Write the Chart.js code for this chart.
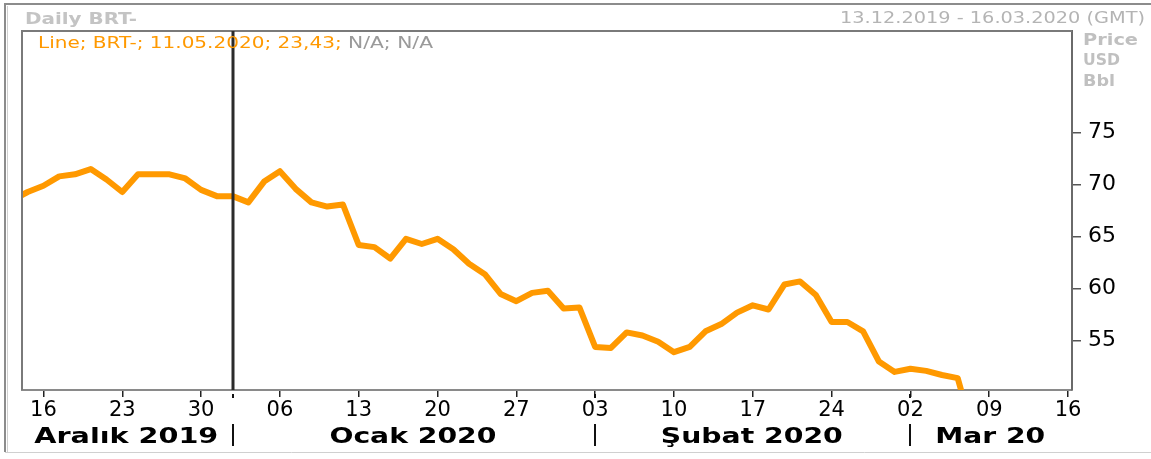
<!DOCTYPE html>
<html>
<head>
<meta charset="utf-8">
<script src="https://cdn.jsdelivr.net/npm/chart.js@4.4.1/dist/chart.umd.min.js"></script>
<style>
  html, body { margin: 0; padding: 0; background: #ffffff; }
  #wrap { position: relative; width: 1151px; height: 459px; }
</style>
</head>
<body>
<div id="wrap"><canvas id="c" width="1151" height="459"></canvas></div>
<script>
// ---- data (trading days, weekdays) ----
const dates = [
  "12.12.2019","13.12.2019",
  "16.12.2019","17.12.2019","18.12.2019","19.12.2019","20.12.2019",
  "23.12.2019","24.12.2019","25.12.2019","26.12.2019","27.12.2019",
  "30.12.2019","31.12.2019","01.01.2020","02.01.2020","03.01.2020",
  "06.01.2020","07.01.2020","08.01.2020","09.01.2020","10.01.2020",
  "13.01.2020","14.01.2020","15.01.2020","16.01.2020","17.01.2020",
  "20.01.2020","21.01.2020","22.01.2020","23.01.2020","24.01.2020",
  "27.01.2020","28.01.2020","29.01.2020","30.01.2020","31.01.2020",
  "03.02.2020","04.02.2020","05.02.2020","06.02.2020","07.02.2020",
  "10.02.2020","11.02.2020","12.02.2020","13.02.2020","14.02.2020",
  "17.02.2020","18.02.2020","19.02.2020","20.02.2020","21.02.2020",
  "24.02.2020","25.02.2020","26.02.2020","27.02.2020","28.02.2020",
  "02.03.2020","03.03.2020","04.03.2020","05.03.2020","06.03.2020"
];
const prices = [
  68.5, 69.3,
  69.9, 70.8, 71.0, 71.5, 70.5,
  69.3, 71.0, 71.0, 71.0, 70.6,
  69.5, 68.9, 68.9, 68.3, 70.3,
  71.3, 69.6, 68.3, 67.9, 68.1,
  64.2, 64.0, 62.9, 64.8, 64.3,
  64.8, 63.8, 62.4, 61.4, 59.5,
  58.8, 59.6, 59.8, 58.1, 58.2,
  54.4, 54.3, 55.8, 55.5, 54.9,
  53.9, 54.4, 55.9, 56.6, 57.7,
  58.4, 58.0, 60.4, 60.7, 59.4,
  56.8, 56.8, 55.9, 53.0, 52.0,
  52.3, 52.1, 51.7, 51.4, 46.0
];
// x tick positions (index of trading day, 13.12.2019 = 0) and their labels
const xTickPos    = [1, 6, 11, 16, 21, 26, 31, 36, 41, 46, 51, 56, 61, 66];
const xTickLabels = ["16","23","30","06","13","20","27","03","10","17","24","02","09","16"];
const yTickValues = [55, 60, 65, 70, 75];
const monthNames  = ["Aralık 2019", "Ocak 2020", "Şubat 2020", "Mar 20"];
const monthStarts = [13, 36, 56];           // first trading day index of Jan, Feb, Mar
const cursorIndex = 13;                     // vertical cursor line
const titleText   = "Daily BRT-";
const rangeText   = "13.12.2019 - 16.03.2020 (GMT)";
const legendMain  = "Line; BRT-; 11.05.2020; 23,43; ";
const legendNA    = "N/A; N/A";
const unitLines   = ["Price", "USD", "Bbl"];

const X_MIN = -0.36, X_MAX = 66.25;
const Y_MIN = 50.26, Y_MAX = 84.78;

const points = prices.map((v, k) => ({ x: k - 1, y: v }));

const FONT = '"DejaVu Sans", Verdana, sans-serif';

function stretchText(ctx, txt, x, y, targetW, align) {
  const w = ctx.measureText(txt).width;
  const sx = targetW / w;
  ctx.save();
  ctx.translate(x, y);
  ctx.scale(sx, 1);
  ctx.textAlign = align || 'left';
  ctx.fillText(txt, 0, 0);
  ctx.restore();
  return w * sx;
}

const decor = {
  id: 'decor',
  beforeDraw(chart) {
    const ctx = chart.ctx;
    ctx.save();
    ctx.fillStyle = '#ffffff';
    ctx.fillRect(0, 0, chart.width, chart.height);
    // outer frame
    ctx.strokeStyle = '#8c8c8c';
    ctx.lineWidth = 2;
    ctx.beginPath();
    ctx.moveTo(4, 4); ctx.lineTo(1151, 4);
    ctx.moveTo(5, 4); ctx.lineTo(5, 452);
    ctx.stroke();
    ctx.strokeStyle = '#d0d0d0';
    ctx.lineWidth = 1;
    ctx.beginPath();
    ctx.moveTo(7.5, 6); ctx.lineTo(7.5, 452);
    ctx.moveTo(5, 452.5); ctx.lineTo(1151, 452.5);
    ctx.stroke();
    ctx.restore();
  },
  afterDatasetsDraw(chart) {
    const ctx = chart.ctx;
    const a = chart.chartArea;
    const xs = chart.scales.x;
    ctx.save();
    // plot frame (left and top)
    ctx.strokeStyle = '#7a7a7a';
    ctx.lineWidth = 2;
    ctx.beginPath();
    ctx.moveTo(a.left, a.bottom); ctx.lineTo(a.left, a.top); ctx.lineTo(a.right, a.top);
    ctx.stroke();
    // cursor line
    const cx = Math.round(xs.getPixelForValue(cursorIndex));
    ctx.strokeStyle = '#2b2b2b';
    ctx.lineWidth = 3;
    ctx.beginPath();
    ctx.moveTo(cx, a.top); ctx.lineTo(cx, a.bottom);
    ctx.stroke();

    // title and range
    ctx.textBaseline = 'alphabetic';
    ctx.font = 'bold 15px ' + FONT;
    ctx.fillStyle = '#c4c4c4';
    stretchText(ctx, titleText, 25, 24, 112, 'left');
    ctx.font = '15px ' + FONT;
    ctx.fillStyle = '#b4b4b4';
    stretchText(ctx, rangeText, 1145, 23, 305, 'right');

    // legend line
    ctx.font = '15px ' + FONT;
    ctx.fillStyle = '#ff9900';
    const w1 = stretchText(ctx, legendMain, 38, 48, 310, 'left');
    ctx.fillStyle = '#9a9a9a';
    stretchText(ctx, legendNA, 38 + w1, 48, 85, 'left');

    // units
    ctx.font = 'bold 15px ' + FONT;
    ctx.fillStyle = '#c0c0c0';
    stretchText(ctx, unitLines[0], 1083, 45, 55, 'left');
    stretchText(ctx, unitLines[1], 1083, 65, 37, 'left');
    stretchText(ctx, unitLines[2], 1083, 86, 32, 'left');

    // month separators and labels
    const bounds = [X_MIN].concat(monthStarts, [X_MAX]);
    ctx.strokeStyle = '#111111';
    ctx.lineWidth = 2;
    monthStarts.forEach(m => {
      const px = Math.round(xs.getPixelForValue(m)) ;
      ctx.beginPath();
      ctx.moveTo(px, 424); ctx.lineTo(px, 446);
      ctx.moveTo(px, a.bottom + 4); ctx.lineTo(px, a.bottom + 8);
      ctx.stroke();
    });
    ctx.font = 'bold 21px ' + FONT;
    ctx.fillStyle = '#000000';
    const widths = [184, 167, 182, 110];
    monthNames.forEach((name, k) => {
      const c = (xs.getPixelForValue(bounds[k]) + xs.getPixelForValue(bounds[k + 1])) / 2;
      stretchText(ctx, name, c - 1, 443, widths[k], 'center');
    });
    ctx.restore();
  }
};

new Chart(document.getElementById('c'), {
  type: 'line',
  data: {
    datasets: [{
      label: 'BRT-',
      data: points,
      borderColor: '#ff9900',
      borderWidth: 6,
      borderJoinStyle: 'round',
      borderCapStyle: 'round',
      pointRadius: 0,
      tension: 0,
      fill: false,
      clip: 0
    }]
  },
  options: {
    responsive: false,
    animation: false,
    devicePixelRatio: 1,
    layout: { padding: { left: 22, top: 31, right: 0, bottom: 0 } },
    plugins: { legend: { display: false }, tooltip: { enabled: false } },
    scales: {
      x: {
        type: 'linear',
        position: 'bottom',
        min: X_MIN, max: X_MAX,
        afterBuildTicks(scale) { scale.ticks = xTickPos.map(v => ({ value: v })); },
        afterFit(scale) { scale.height = 69; },
        ticks: {
          autoSkip: false, maxRotation: 0,
          color: '#000000',
          font: { family: FONT, size: 21 },
          padding: 1,
          callback(value) { const k = xTickPos.indexOf(value); return k >= 0 ? xTickLabels[k] : ''; }
        },
        grid: { drawOnChartArea: false, drawTicks: true, tickLength: 7, color: '#222222', lineWidth: 1.5 },
        border: { display: true, color: '#8a8a8a', width: 2 }
      },
      y: {
        type: 'linear',
        position: 'right',
        min: Y_MIN, max: Y_MAX,
        afterBuildTicks(scale) { scale.ticks = yTickValues.map(v => ({ value: v })); },
        afterFit(scale) { scale.width = 79; },
        ticks: {
          color: '#000000',
          font: { family: FONT, size: 22 },
          padding: 7,
          callback(value) { return String(value); }
        },
        grid: { drawOnChartArea: false, drawTicks: true, tickLength: 9, color: '#555555', lineWidth: 1.5 },
        border: { display: true, color: '#6a6a6a', width: 2 }
      }
    }
  },
  plugins: [decor]
});
</script>
</body>
</html>
